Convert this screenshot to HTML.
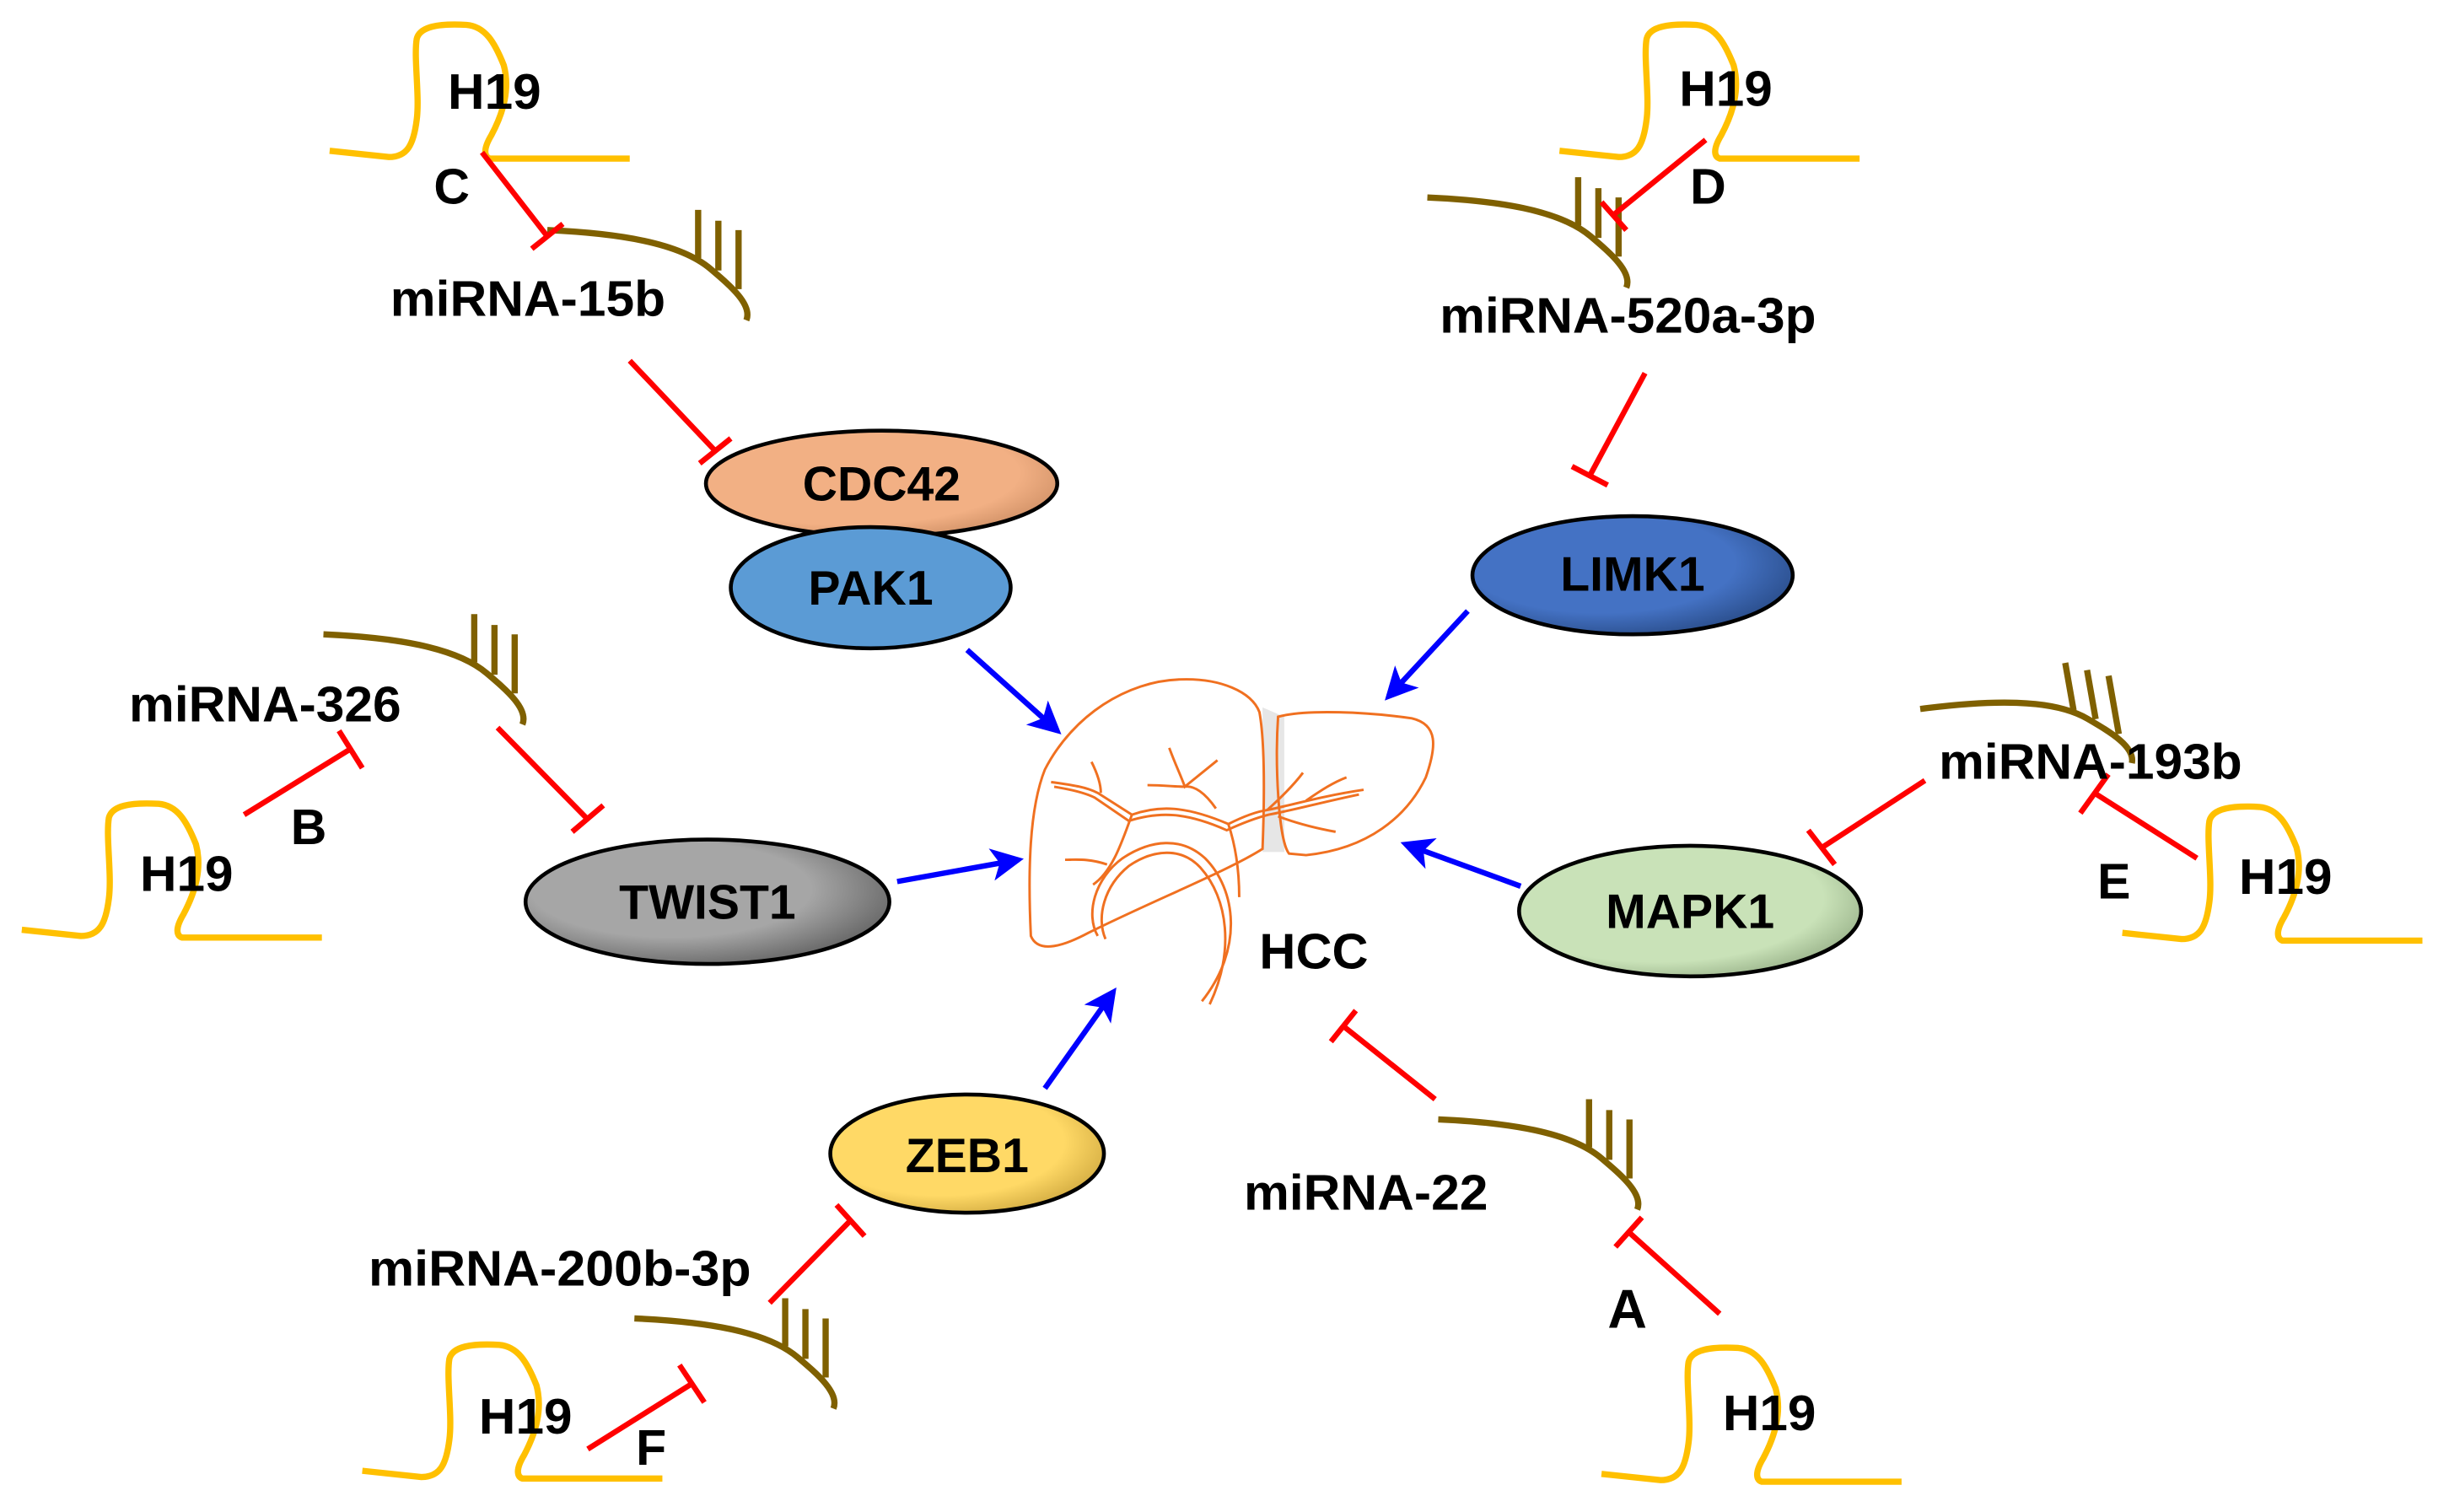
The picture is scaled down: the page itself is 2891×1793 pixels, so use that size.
<!DOCTYPE html>
<html><head><meta charset="utf-8"><style>
html,body{margin:0;padding:0;background:#fff;}
svg{display:block;}
text{font-family:"Liberation Sans",Arial,sans-serif;font-weight:bold;fill:#000;}
</style></head><body>
<svg width="2891" height="1793" viewBox="0 0 1568 972.5" xmlns="http://www.w3.org/2000/svg">
<defs>
<radialGradient id="gC" cx="0.4" cy="0.4" r="0.7"><stop offset="0.7" stop-color="#f2b084"/><stop offset="1" stop-color="#c98a60"/></radialGradient>
<radialGradient id="gL" cx="0.4" cy="0.4" r="0.7"><stop offset="0.6" stop-color="#4472c4"/><stop offset="1" stop-color="#25467f"/></radialGradient>
<radialGradient id="gT" cx="0.4" cy="0.4" r="0.7"><stop offset="0.55" stop-color="#a6a6a6"/><stop offset="1" stop-color="#5a5a5a"/></radialGradient>
<radialGradient id="gM" cx="0.4" cy="0.4" r="0.7"><stop offset="0.7" stop-color="#c9e2b8"/><stop offset="1" stop-color="#8fa880"/></radialGradient>
<radialGradient id="gZ" cx="0.4" cy="0.4" r="0.7"><stop offset="0.65" stop-color="#ffd966"/><stop offset="1" stop-color="#c9a23a"/></radialGradient>
<g id="mi" fill="none" stroke="#7f6000" stroke-width="4">
<path d="M0,0 C45,2 85,8 105,25 C118,36 132,48 128,58"/>
<path d="M97,-13 V18 M110,-6 V26 M123,0 V38"/>
</g>
<path id="h19" d="M0,0 L38,4 C50,4 54,-4 56,-20 C58,-35 54,-60 56,-72 C58,-80 70,-82 88,-81 C100,-80 106,-70 112,-55 C116,-40 112,-25 104,-10 C98,0 100,4 103,5 L193,5" fill="none" stroke="#ffc000" stroke-width="4"/>
<marker id="ar" markerWidth="6" markerHeight="6" refX="5" refY="3" orient="auto" markerUnits="strokeWidth"><path d="M0,0 L6,3 L0,6 L1.5,3z" fill="#0000ff"/></marker>
</defs>

<use href="#h19" transform="translate(212,97)"/>
<use href="#h19" transform="translate(1003,97)"/>
<use href="#h19" transform="translate(14,598)"/>
<use href="#h19" transform="translate(1365,600)"/>
<use href="#h19" transform="translate(1030,948)"/>
<use href="#h19" transform="translate(233,946)"/>

<use href="#mi" transform="translate(352,148)"/>
<use href="#mi" transform="translate(918,127)"/>
<use href="#mi" transform="translate(208,408)"/>
<use href="#mi" transform="translate(1235,456) rotate(-10)"/>
<use href="#mi" transform="translate(925,720)"/>
<use href="#mi" transform="translate(408,848)"/>

<g stroke="#ff0000" stroke-width="3.5" fill="none">
<path d="M310,98 L352,152 M342,160 L362,144"/>
<path d="M405,232 L460,290 M450,298 L470,282"/>
<path d="M1097,90 L1038,138 M1030,130 L1046,148"/>
<path d="M1058,240 L1023,305 M1011,300 L1034,312"/>
<path d="M320,468 L378,527 M368,535 L388,518"/>
<path d="M157,524 L225,482 M218,470 L233,494"/>
<path d="M1238,502 L1172,545 M1163,534 L1180,556"/>
<path d="M1413,552 L1347,510 M1338,523 L1356,498"/>
<path d="M923,707 L864,660 M856,670 L872,650"/>
<path d="M1106,845 L1047,792 M1039,802 L1056,783"/>
<path d="M495,838 L547,785 M538,775 L556,795"/>
<path d="M378,932 L445,890 M437,878 L453,902"/>
</g>

<g stroke="#0000ff" stroke-width="3.5" fill="none" marker-end="url(#ar)">
<path d="M622,418 L680,470"/>
<path d="M944,393 L893,448"/>
<path d="M577,567 L655,553"/>
<path d="M978,570 L904,543"/>
<path d="M672,700 L716,638"/>
</g>

<!-- liver -->
<path d="M812,455 L826,461 L826,548 L812,548 Z" fill="#e6e6e6"/>
<g fill="none" stroke="#f07020" stroke-width="1.6">
<path d="M663,602 C661,560 662,520 672,495 C690,460 725,438 759,437 C785,436 805,445 810,458 C814,480 813,520 812,546 C790,560 740,580 700,600 C685,608 668,614 663,602 Z"/>
<path d="M822,461 C840,456 880,458 908,462 C925,466 924,480 917,500 C905,525 880,546 840,550 L829,549 C822,540 820,490 822,461 Z"/>
<path d="M706,602 C698,588 704,565 722,552 C740,540 760,538 775,552 C795,572 800,610 773,644"/>
<path d="M711,604 C705,590 710,570 726,557 C742,546 760,545 772,558 C790,578 794,612 778,646"/>
<path d="M676,503 C690,505 698,506 706,510 L728,524 C745,518 762,518 790,530 C800,525 808,522 815,521 C830,518 850,512 877,508"/>
<path d="M678,506 C690,508 698,510 704,513 L726,528 C745,522 762,522 789,534 C800,529 808,526 816,524 C832,521 850,516 874,511"/>
<path d="M702,490 C706,498 708,505 708,510 M752,481 C756,492 760,500 762,506 L783,489 M762,506 C768,505 775,510 782,520 M738,505 C748,505 756,506 762,506"/>
<path d="M728,524 C722,540 716,560 703,569 M712,556 C700,552 692,553 685,553"/>
<path d="M790,530 C795,545 797,560 797,577 M815,521 C825,512 832,505 838,497 M822,525 C835,530 848,533 859,535 M840,515 C850,508 858,503 866,500"/>
</g>

<ellipse cx="567" cy="311" rx="113" ry="34" fill="url(#gC)" stroke="#000" stroke-width="2.5"/>
<ellipse cx="560" cy="378" rx="90" ry="39" fill="#5b9bd5" stroke="#000" stroke-width="2.5"/>
<ellipse cx="1050" cy="370" rx="103" ry="38" fill="url(#gL)" stroke="#000" stroke-width="2.5"/>
<ellipse cx="455" cy="580" rx="117" ry="40" fill="url(#gT)" stroke="#000" stroke-width="2.5"/>
<ellipse cx="1087" cy="586" rx="110" ry="42" fill="url(#gM)" stroke="#000" stroke-width="2.5"/>
<ellipse cx="622" cy="742" rx="88" ry="38" fill="url(#gZ)" stroke="#000" stroke-width="2.5"/>

<g font-size="31" text-anchor="middle">
<text x="567" y="322">CDC42</text>
<text x="560" y="389">PAK1</text>
<text x="1050" y="380">LIMK1</text>
<text x="455" y="591">TWIST1</text>
<text x="1087" y="597">MAPK1</text>
<text x="622" y="754">ZEB1</text>
</g>

<g font-size="32">
<text x="288" y="70" textLength="60" lengthAdjust="spacingAndGlyphs">H19</text>
<text x="1080" y="68" textLength="60" lengthAdjust="spacingAndGlyphs">H19</text>
<text x="90" y="573" textLength="60" lengthAdjust="spacingAndGlyphs">H19</text>
<text x="1440" y="575" textLength="60" lengthAdjust="spacingAndGlyphs">H19</text>
<text x="1108" y="920" textLength="60" lengthAdjust="spacingAndGlyphs">H19</text>
<text x="308" y="922" textLength="60" lengthAdjust="spacingAndGlyphs">H19</text>
<text x="279" y="131">C</text>
<text x="1087" y="131">D</text>
<text x="187" y="543">B</text>
<text x="1349" y="578">E</text>
<text x="409" y="942">F</text>
<text x="1034" y="854" font-size="35">A</text>
<text x="251" y="203" textLength="177" lengthAdjust="spacingAndGlyphs">miRNA-15b</text>
<text x="926" y="214" textLength="242" lengthAdjust="spacingAndGlyphs">miRNA-520a-3p</text>
<text x="83" y="464" textLength="175" lengthAdjust="spacingAndGlyphs">miRNA-326</text>
<text x="1247" y="501" textLength="195" lengthAdjust="spacingAndGlyphs">miRNA-193b</text>
<text x="800" y="778" textLength="157" lengthAdjust="spacingAndGlyphs">miRNA-22</text>
<text x="237" y="827" textLength="246" lengthAdjust="spacingAndGlyphs">miRNA-200b-3p</text>
<text x="810" y="623" textLength="70" lengthAdjust="spacingAndGlyphs">HCC</text>
</g>
</svg>
</body></html>
